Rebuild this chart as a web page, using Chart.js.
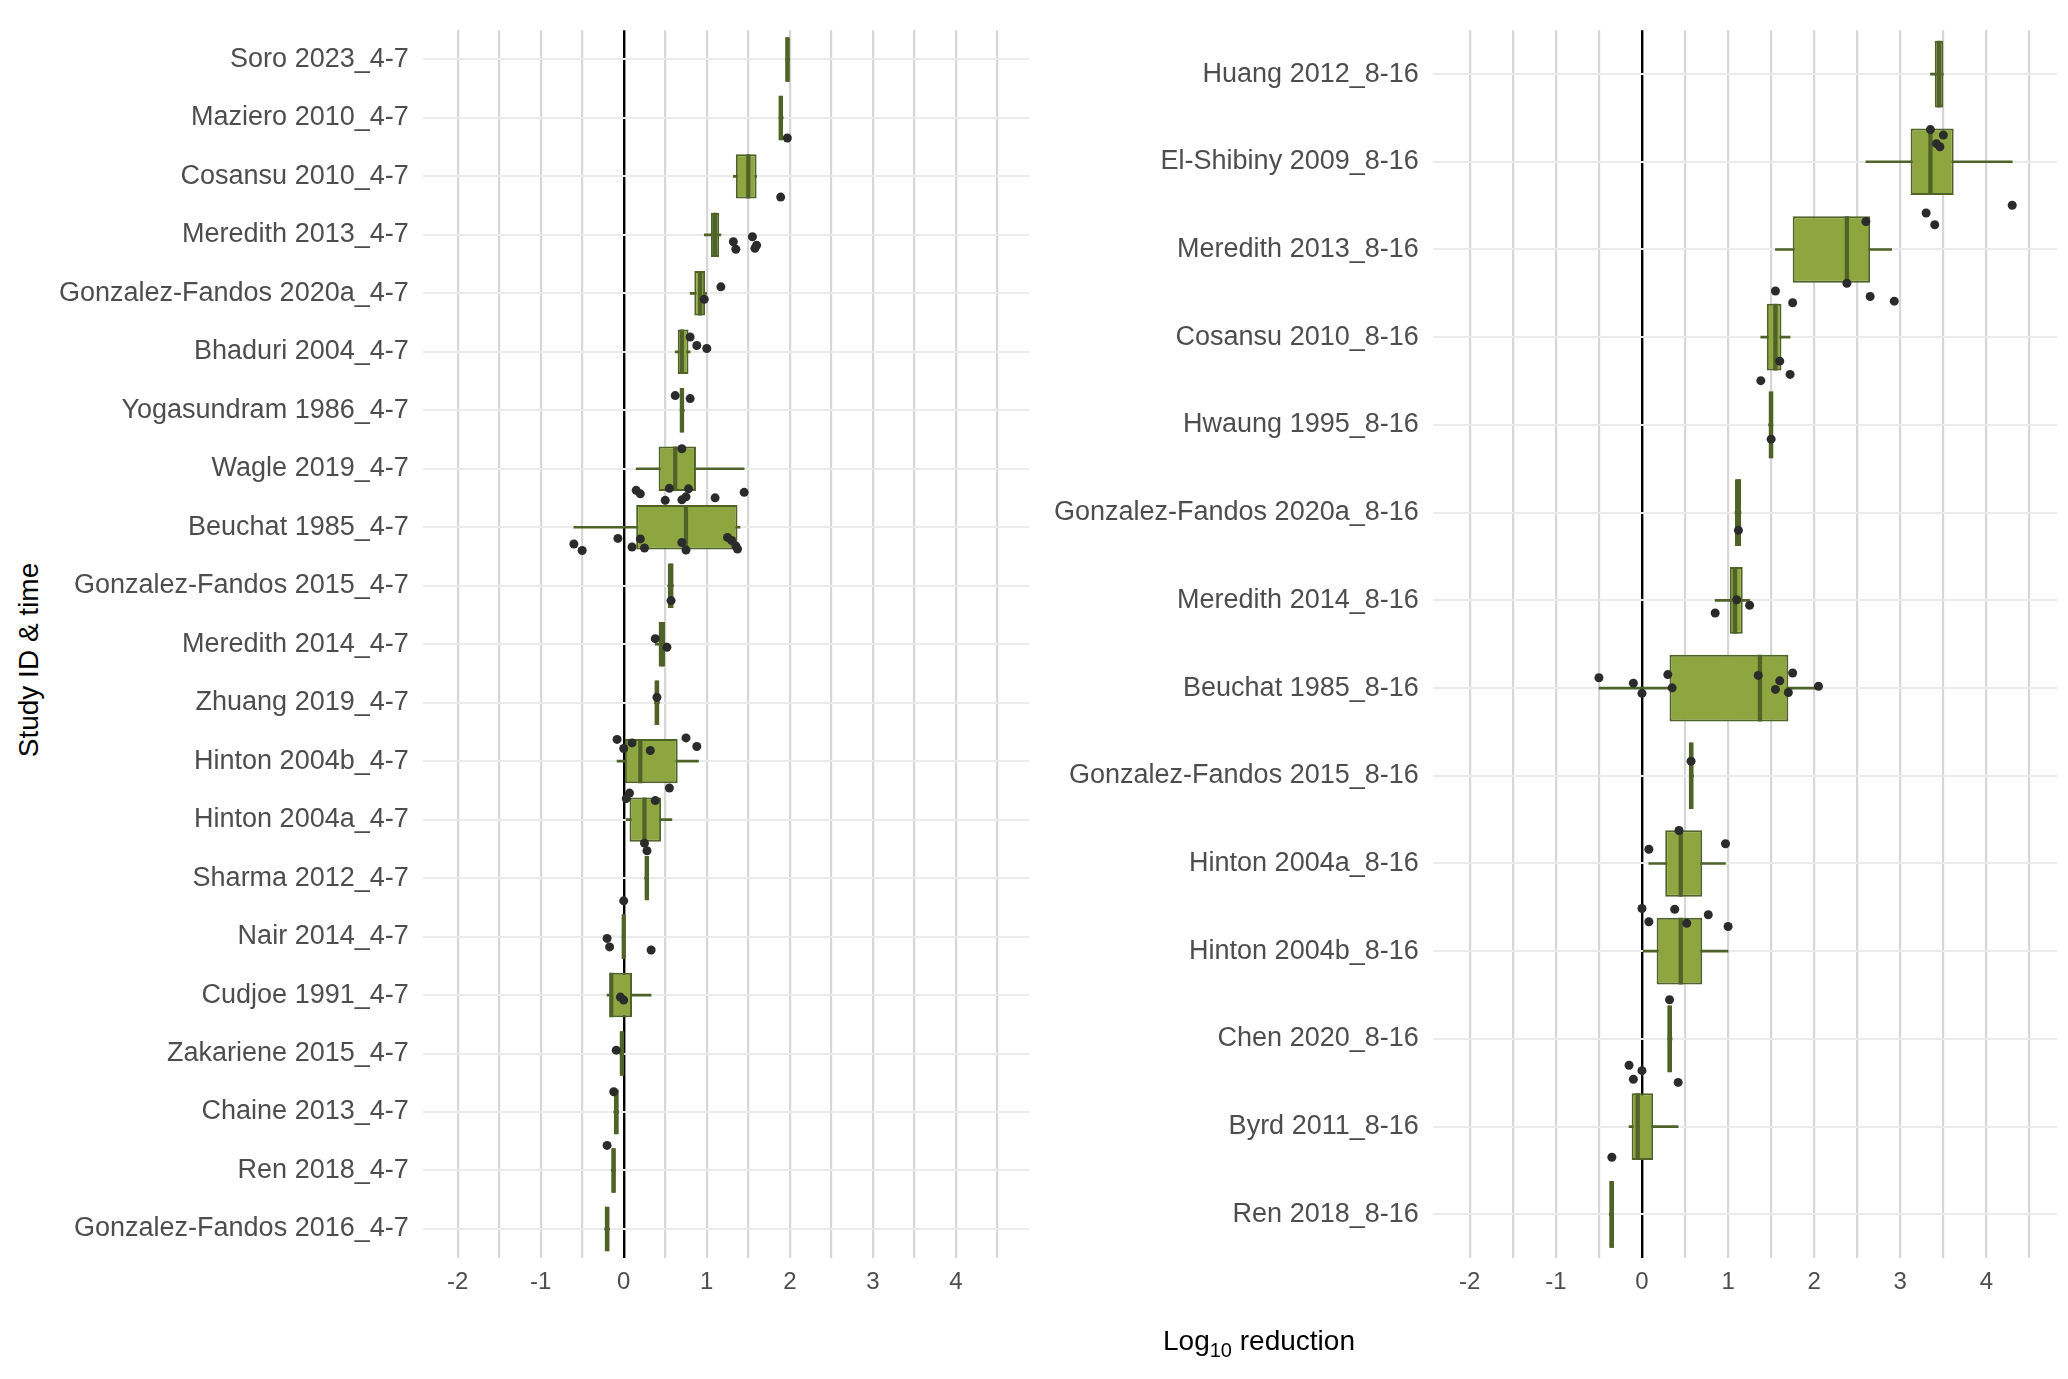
<!DOCTYPE html>
<html>
<head>
<meta charset="utf-8">
<script src="https://cdn.jsdelivr.net/npm/chart.js@4"></script>
<style>
body{margin:0;background:#fff;font-family:Arial,"Liberation Sans",sans-serif;}
.panel{position:absolute;top:0;height:1335px;}
#ytitle{position:absolute;left:29px;top:660px;transform:translate(-50%,-50%) rotate(-90deg);font-size:28px;color:#000;white-space:nowrap;}
#xtitle{position:absolute;left:1259px;top:1325px;transform:translateX(-50%);font-size:28px;color:#000;white-space:nowrap;}
</style>
</head>
<body>
<div class="panel" style="left:45px;width:992px"><canvas id="left"></canvas></div>
<div class="panel" style="left:1040px;width:1025px"><canvas id="right"></canvas></div>
<div id="ytitle">Study ID &amp; time</div>
<div id="xtitle">Log<sub style="font-size:20px">10</sub> reduction</div>
<script>
// left panel: 4-7 days
const leftLabels=['Soro 2023_4-7','Maziero 2010_4-7','Cosansu 2010_4-7','Meredith 2013_4-7','Gonzalez-Fandos 2020a_4-7','Bhaduri 2004_4-7','Yogasundram 1986_4-7','Wagle 2019_4-7','Beuchat 1985_4-7','Gonzalez-Fandos 2015_4-7','Meredith 2014_4-7','Zhuang 2019_4-7','Hinton 2004b_4-7','Hinton 2004a_4-7','Sharma 2012_4-7','Nair 2014_4-7','Cudjoe 1991_4-7','Zakariene 2015_4-7','Chaine 2013_4-7','Ren 2018_4-7','Gonzalez-Fandos 2016_4-7'];
const leftMin=[1.95,1.87,1.32,0.97,0.8,0.62,0.68,0.15,-0.6,0.53,0.38,0.37,-0.08,0.03,0.25,-0.02,-0.2,-0.05,-0.12,-0.15,-0.23];
const leftQ1=[1.95,1.87,1.35,1.05,0.85,0.65,0.68,0.42,0.15,0.53,0.42,0.37,0.0,0.07,0.25,-0.02,-0.17,-0.05,-0.12,-0.15,-0.23];
const leftMed=[1.97,1.89,1.5,1.1,0.92,0.7,0.7,0.62,0.75,0.57,0.46,0.4,0.2,0.25,0.28,0,-0.15,-0.02,-0.09,-0.12,-0.2];
const leftQ3=[2.0,1.92,1.6,1.15,0.98,0.78,0.73,0.87,1.37,0.6,0.5,0.43,0.65,0.45,0.3,0.02,0.1,0.0,-0.06,-0.1,-0.17];
const leftMax=[2.0,1.92,1.6,1.17,1.0,0.8,0.73,1.45,1.4,0.6,0.52,0.43,0.9,0.58,0.3,0.02,0.33,0.0,-0.06,-0.1,-0.17];
const leftPts=[[1.97],[1.89],[1.32,1.35,1.55,1.6,1.58],[0.97,1.17],[0.8,0.88,1.0],[0.62,0.8],[0.7],
 [0.15,0.2,0.5,0.55,0.75,0.78,1.1,1.45,0.7],[-0.6,-0.5,-0.07,0.1,0.2,0.25,0.7,0.75,1.25,1.35,1.37,1.3],
 [0.57],[0.38,0.52],[0.4],[-0.08,0.0,0.1,0.32,0.75,0.88],[0.03,0.07,0.38,0.55],[0.25,0.28],[0],
 [-0.2,-0.17,0.33],[-0.04,0],[-0.09],[-0.12],[-0.2]];

// right panel: 8-16 days
const rightLabels=['Huang 2012_8-16','El-Shibiny 2009_8-16','Meredith 2013_8-16','Cosansu 2010_8-16','Hwaung 1995_8-16','Gonzalez-Fandos 2020a_8-16','Meredith 2014_8-16','Beuchat 1985_8-16','Gonzalez-Fandos 2015_8-16','Hinton 2004a_8-16','Hinton 2004b_8-16','Chen 2020_8-16','Byrd 2011_8-16','Ren 2018_8-16'];
const rightMin=[3.35,2.6,1.55,1.38,1.47,1.08,0.85,-0.5,0.55,0.08,0.0,0.3,-0.15,-0.38];
const rightQ1=[3.4,3.12,1.75,1.45,1.47,1.08,1.02,0.32,0.55,0.27,0.17,0.3,-0.12,-0.38];
const rightMed=[3.45,3.35,2.38,1.55,1.5,1.12,1.08,1.37,0.57,0.45,0.45,0.32,-0.05,-0.35];
const rightQ3=[3.5,3.62,2.65,1.62,1.52,1.15,1.17,1.7,0.6,0.7,0.7,0.35,0.13,-0.33];
const rightMax=[3.5,4.3,2.9,1.72,1.52,1.15,1.25,2.05,0.6,0.97,1.0,0.35,0.42,-0.33];
const rightPts=[[3.35,3.42,3.5,3.46],[2.6,3.3,3.4,4.3],[1.55,1.75,2.38,2.65,2.93],[1.38,1.6,1.72],[1.5],[1.12],
 [0.85,1.1,1.25],[-0.5,-0.1,0,0.3,0.35,1.35,1.55,1.6,1.7,1.75,2.05],[0.57],[0.08,0.43,0.97],
 [0,0.08,0.38,0.52,0.77,1.0],[0.32],[-0.15,-0.1,0,0.42],[-0.35]];

const xTicks=[-2,-1,0,1,2,3,4];
const jitter=[-0.1,0.08,-0.03,0.12,-0.13,0.04,0.1,-0.07,0.0,0.13,-0.11,0.06];

function makeChart(id,labels,mn,q1,md,q3,mx,pts,xmin,xmax){
  const points=[];
  pts.forEach((arr,i)=>arr.forEach((v,j)=>points.push({x:v,y:i+jitter[(j+i)%jitter.length]})));
  new Chart(document.getElementById(id),{
    type:'bar',
    data:{labels:labels,datasets:[
      {data:labels.map((l,i)=>[mn[i],mx[i]]),backgroundColor:'#4f6228',barThickness:2,grouped:false,order:4},
      {data:labels.map((l,i)=>[q1[i],q3[i]]),backgroundColor:'#8da63f',borderColor:'#4f6228',borderWidth:2,borderSkipped:false,
        categoryPercentage:1,barPercentage:0.76,grouped:false,order:3},
      {data:labels.map((l,i)=>[md[i]-0.025,md[i]+0.025]),backgroundColor:'#4f6228',categoryPercentage:1,barPercentage:0.76,grouped:false,order:2},
      {type:'scatter',yAxisID:'yp',data:points,backgroundColor:'#2b2b2b',borderWidth:0,pointRadius:4.5,order:1}
    ]},
    options:{
      indexAxis:'y',responsive:true,maintainAspectRatio:false,animation:false,
      layout:{padding:{top:14,bottom:28,right:8}},
      plugins:{legend:{display:false},tooltip:{enabled:false}},
      scales:{
        x:{type:'linear',min:xmin,max:xmax,border:{display:false},
          afterBuildTicks:ax=>{const t=[];for(let v=-2;v<=4.5;v+=0.5)t.push({value:v});ax.ticks=t;},
          ticks:{color:'#4d4d4d',font:{size:24},padding:10,autoSkip:false,callback:v=>xTicks.includes(v)?String(v):''},
          grid:{color:c=>c.tick&&c.tick.value===0?'#000':'#d6d6d6',lineWidth:c=>c.tick&&c.tick.value===0?2.4:2.2,drawTicks:false}},
        y:{type:'category',offset:true,border:{display:false},
          ticks:{color:'#4d4d4d',font:{size:27},padding:14},
          grid:{offset:false,color:'#ebebeb',lineWidth:2,drawTicks:false}},
        yp:{type:'linear',display:false,reverse:true,min:-0.5,max:labels.length-0.5}
      }
    }
  });
}
makeChart('left',leftLabels,leftMin,leftQ1,leftMed,leftQ3,leftMax,leftPts,-2.42,4.88);
makeChart('right',rightLabels,rightMin,rightQ1,rightMed,rightQ3,rightMax,rightPts,-2.43,4.82);
</script>
</body>
</html>
